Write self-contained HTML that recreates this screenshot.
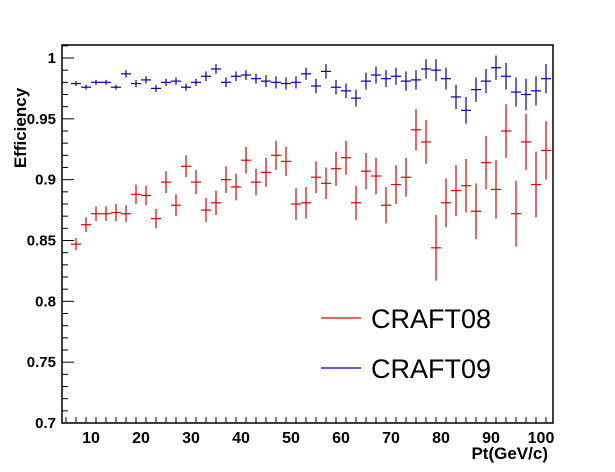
<!DOCTYPE html>
<html><head><meta charset="utf-8"><style>
body{margin:0;background:#fff;}
svg{display:block;font-family:"Liberation Sans",Arial,sans-serif;}
</style></head><body>
<svg id="chart" width="615" height="472"></svg>
<script>
const xCenters=[7,9,11,13,15,17,19,21,23,25,27,29,31,33,35,37,39,41,43,45,47,49,51,53,55,57,59,61,63,65,67,69,71,73,75,77,79,81,83,85,87,89,91,93,95,97,99,101];
const craft08=[0.847,0.863,0.872,0.872,0.873,0.872,0.888,0.887,0.868,0.898,0.879,0.911,0.898,0.875,0.881,0.900,0.894,0.916,0.898,0.906,0.920,0.915,0.880,0.881,0.902,0.897,0.909,0.918,0.881,0.907,0.903,0.879,0.896,0.902,0.941,0.931,0.844,0.881,0.891,0.895,0.874,0.914,0.892,0.940,0.872,0.931,0.896,0.924];
const craft08Err=[0.005,0.006,0.006,0.006,0.007,0.007,0.008,0.008,0.008,0.009,0.009,0.009,0.010,0.010,0.010,0.011,0.011,0.011,0.011,0.012,0.012,0.012,0.013,0.013,0.013,0.013,0.014,0.014,0.014,0.015,0.015,0.015,0.016,0.016,0.017,0.018,0.027,0.020,0.021,0.022,0.023,0.022,0.024,0.022,0.027,0.023,0.027,0.024];
const craft09=[0.979,0.976,0.980,0.980,0.976,0.987,0.979,0.982,0.975,0.980,0.981,0.976,0.980,0.985,0.991,0.980,0.985,0.986,0.983,0.981,0.980,0.979,0.980,0.987,0.977,0.989,0.976,0.973,0.967,0.981,0.986,0.983,0.985,0.981,0.982,0.991,0.990,0.983,0.968,0.957,0.974,0.981,0.992,0.985,0.972,0.970,0.973,0.983];
const craft09Err=[0.002,0.002,0.002,0.002,0.002,0.003,0.003,0.003,0.003,0.003,0.003,0.003,0.003,0.004,0.004,0.004,0.004,0.004,0.004,0.005,0.005,0.005,0.005,0.005,0.006,0.006,0.006,0.006,0.007,0.007,0.007,0.007,0.007,0.008,0.008,0.008,0.009,0.009,0.010,0.011,0.010,0.010,0.010,0.011,0.012,0.013,0.012,0.012];
const yTicks=[0.7,0.75,0.8,0.85,0.9,0.95,1];
const yTickLabels=["0.7","0.75","0.8","0.85","0.9","0.95","1"];
const xTicks=[10,20,30,40,50,60,70,80,90,100];

const L=62,R=553,T=45,B=423;
const xMin=4.2,xMax=102.4;
const X=v=>L+(v-xMin)/(xMax-xMin)*(R-L);
const Y=v=>58+(1-v)*1216.7;
const svg=document.getElementById('chart');
const NS='http://www.w3.org/2000/svg';
function mk(tag,attrs,parent){const e=document.createElementNS(NS,tag);for(const k in attrs)e.setAttribute(k,attrs[k]);(parent||svg).appendChild(e);return e;}

const frame=mk('rect',{x:L,y:T,width:R-L,height:B-T,fill:'none',stroke:'#000','stroke-width':1.5});



const axes=mk('g',{stroke:'#000','stroke-width':1});


for(let v=0.7;v<=1.0001+0.05;v+=0.01){
  const vv=Math.round(v*100)/100; if(vv>1.01)break;
  const y=Y(vv); if(y<T)continue;
  const major=Math.abs(vv*20-Math.round(vv*20))<1e-6;
  mk('line',{x1:L,x2:L+(major?12:6),y1:y,y2:y},axes);
}
for(let v=5;v<=102;v+=2){
  const major=v%10===0;
  mk('line',{x1:X(v),x2:X(v),y1:B,y2:B-(major?12:6)},axes);
}
yTicks.forEach((v,i)=>{
  const t=mk('text',{x:L-6,y:Y(v)+5,'text-anchor':'end','font-size':15,'font-weight':'bold'});
  t.textContent=yTickLabels[i];
  
  
});
xTicks.forEach(v=>{
  const t=mk('text',{x:X(v),y:B+20,'text-anchor':'middle','font-size':16,'font-weight':'bold'});
  t.textContent=v;
  
  
});
const xt=mk('text',{x:548,y:459,'text-anchor':'end','font-size':17,'font-weight':'bold'});
xt.textContent='Pt(GeV/c)';


const yt=mk('text',{x:0,y:0,transform:'translate(26,128) rotate(-90)','text-anchor':'middle','font-size':17,'font-weight':'bold'});
yt.textContent='Efficiency';



function series(vals,errs,color,name){
  const g=mk('g',{stroke:color,'stroke-width':1.2});
  
  
  vals.forEach((v,i)=>{
    const cx=X(xCenters[i]);
    mk('line',{x1:X(xCenters[i]-1),x2:X(xCenters[i]+1),y1:Y(v),y2:Y(v)},g);
    mk('line',{x1:cx,x2:cx,y1:Y(v+errs[i]),y2:Y(v-errs[i])},g);
  });
}
series(craft08,craft08Err,'#e00000','series-craft08');
series(craft09,craft09Err,'#0000b4','series-craft09');

const lg=mk('g',{});


[['CRAFT08','#e00000',318],['CRAFT09','#0000b4',368]].forEach(([n,c,y])=>{
  const e=mk('g',{},lg);
  
  
  mk('line',{x1:321,x2:361,y1:y,y2:y,stroke:c,'stroke-width':1.2},e);
  const t=mk('text',{x:371,y:y+10,'font-size':27},e);
  t.textContent=n;
});
</script>
</body></html>
